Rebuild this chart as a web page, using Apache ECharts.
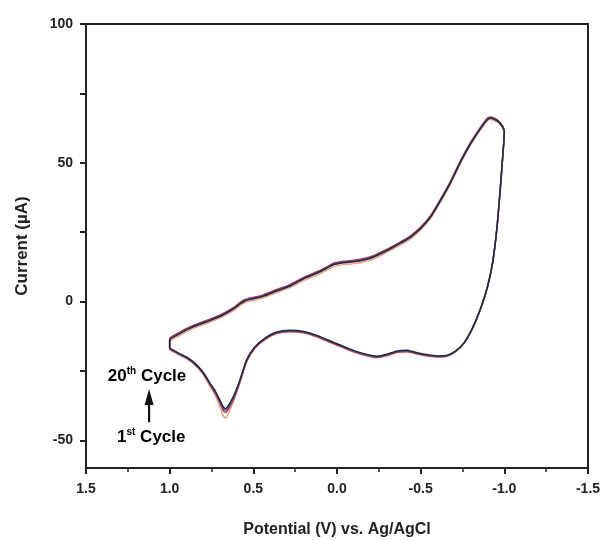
<!DOCTYPE html>
<html>
<head>
<meta charset="utf-8">
<script src="https://cdn.jsdelivr.net/npm/echarts@6/dist/echarts.min.js"></script>
<style>
  html, body { margin: 0; padding: 0; background: #fff; }
  #cv { width: 605px; height: 540px; }
</style>
</head>
<body>
<div id="cv"></div>
<script>
// cyclic voltammogram, cycles 1..20 overlapping
// sweep: 1.0 V -> -1.0 V (lower branch), then back to 1.0 V (upper branch)
var potential = [1.00, 0.95, 0.90, 0.85, 0.80, 0.76, 0.73, 0.70, 0.68, 0.665, 0.65, 0.63, 0.61, 0.58, 0.54, 0.49, 0.43, 0.36, 0.28, 0.20,
  0.12, 0.03, -0.06, -0.15, -0.24, -0.30, -0.36, -0.42, -0.48, -0.54, -0.60, -0.66, -0.71, -0.76, -0.81, -0.86, -0.90, -0.93, -0.955, -0.975,
  -0.99, -1.00, -0.99, -0.96, -0.92, -0.90, -0.86, -0.80, -0.74, -0.68, -0.62, -0.56, -0.50, -0.44, -0.38, -0.32, -0.26, -0.20, -0.14, -0.08,
  -0.03, 0.02, 0.07, 0.12, 0.20, 0.28, 0.36, 0.44, 0.50, 0.55, 0.58, 0.61, 0.65, 0.70, 0.76, 0.82, 0.88, 0.94, 1.00, 1.00];

var cycle1 = [-17.4, -19.1, -20.6, -22.9, -26.3, -30.5, -33.6, -37.9, -41.2, -42.0, -40.5, -37.7, -34.6, -29.3, -21.8, -16.9, -13.8, -11.6, -11.0, -11.4,
  -12.8, -15.1, -17.3, -19.2, -20.3, -19.6, -18.4, -18.2, -19.0, -19.7, -20.0, -19.7, -18.0, -15.0, -9.7, -2.4, 5.3, 13.8, 25.8, 39.8,
  51.8, 60.8, 62.5, 64.6, 65.6, 65.2, 62.1, 56.6, 50.0, 42.5, 36.0, 30.0, 25.8, 22.6, 20.4, 18.4, 16.5, 14.9, 14.0, 13.5,
  13.2, 12.6, 11.0, 9.5, 7.5, 5.0, 3.2, 1.3, 0.4, -0.4, -1.5, -2.9, -4.4, -6.0, -7.5, -8.8, -10.3, -12.2, -14.6, -17.4];

var cycle10 = [-17.1, -18.8, -20.3, -22.6, -25.9, -29.9, -32.7, -36.5, -39.3, -40.0, -38.9, -36.6, -34.0, -28.9, -21.5, -16.7, -13.6, -11.4, -10.8, -11.2,
  -12.6, -14.9, -17.1, -19.0, -20.1, -19.4, -18.2, -18.0, -18.8, -19.5, -19.9, -19.6, -17.9, -14.9, -9.6, -2.3, 5.4, 14.1, 26.1, 40.1,
  52.1, 61.1, 63.2, 65.4, 66.5, 66.1, 63.0, 57.5, 51.0, 43.5, 37.0, 31.0, 26.8, 23.7, 21.5, 19.5, 17.7, 16.1, 15.2, 14.7,
  14.4, 13.8, 12.2, 10.7, 8.7, 6.1, 4.3, 2.4, 1.5, 0.7, -0.4, -1.8, -3.3, -4.9, -6.4, -7.7, -9.2, -11.1, -13.4, -17.1];

var cycle15 = [-17.0, -18.7, -20.2, -22.4, -25.7, -29.6, -32.4, -36.0, -38.6, -39.2, -38.2, -36.0, -33.5, -28.6, -21.2, -16.5, -13.4, -11.2, -10.6, -11.0,
  -12.4, -14.7, -16.9, -18.8, -19.9, -19.2, -18.0, -17.8, -18.7, -19.4, -19.8, -19.5, -17.9, -14.9, -9.6, -2.3, 5.4, 14.0, 26.0, 40.0,
  52.0, 61.0, 63.0, 65.2, 66.2, 65.8, 62.7, 57.2, 50.7, 43.2, 36.7, 30.7, 26.5, 23.4, 21.2, 19.2, 17.4, 15.8, 14.9, 14.4,
  14.1, 13.5, 11.9, 10.4, 8.4, 5.8, 4.0, 2.1, 1.2, 0.4, -0.7, -2.1, -3.6, -5.2, -6.7, -8.0, -9.5, -11.4, -13.7, -17.0];

var cycle20 = [-16.8, -18.5, -20.0, -22.2, -25.5, -29.3, -32.0, -35.5, -38.0, -38.6, -37.5, -35.5, -33.0, -28.3, -21.0, -16.3, -13.2, -11.0, -10.4, -10.8,
  -12.2, -14.5, -16.7, -18.6, -19.7, -19.0, -17.8, -17.6, -18.5, -19.2, -19.6, -19.4, -17.8, -14.8, -9.5, -2.2, 5.5, 14.0, 26.0, 40.0,
  52.0, 61.0, 62.8, 65.0, 66.0, 65.6, 62.5, 57.0, 50.5, 43.0, 36.5, 30.5, 26.3, 23.2, 21.0, 19.0, 17.2, 15.6, 14.7, 14.2,
  13.9, 13.3, 11.7, 10.2, 8.2, 5.6, 3.8, 1.9, 1.0, 0.2, -0.9, -2.3, -3.8, -5.4, -6.9, -8.2, -9.7, -11.6, -13.9, -16.8];

var yLabels = [-50, 0, 50, 100];
var yTicks = [-50, -25, 0, 25, 50, 75, 100];

var cycles = [
  { name: '1st', values: cycle1, color: '#f0a286' },
  { name: '10th', values: cycle10, color: '#b8304a' },
  { name: '15th', values: cycle15, color: '#4a55a0' },
  { name: '20th', values: cycle20, color: '#262838' }
];

var chart = echarts.init(document.getElementById('cv'));
var font = 'Liberation Sans, Arial, sans-serif';

var series = cycles.map(function (c) {
  return {
    name: c.name,
    type: 'line',
    smooth: 0.2,
    showSymbol: false,
    symbol: 'none',
    lineStyle: { color: c.color, width: 1.5 },
    data: potential.map(function (p, i) { return [p, c.values[i]]; })
  };
});

var option = {
  animation: false,
  backgroundColor: '#fff',
  grid: {
    left: 86, right: 17, top: 24, bottom: 72,
    outerBoundsMode: 'none',
    containLabel: false,
    show: true, borderColor: '#222', borderWidth: 2, backgroundColor: 'transparent'
  },
  xAxis: {
    type: 'value',
    inverse: true,
    min: -1.5,
    max: 1.5,
    interval: 0.5,
    name: 'Potential (V) vs. Ag/AgCl',
    nameLocation: 'middle',
    nameGap: 54,
    nameTextStyle: { fontFamily: font, fontWeight: 'bold', fontSize: 16, color: '#222' },
    axisLine: { onZero: false, lineStyle: { color: '#222', width: 2 } },
    axisTick: { show: true, inside: false, length: 6, lineStyle: { color: '#222', width: 2 } },
    minorTick: { show: true, splitNumber: 2, length: 4, lineStyle: { color: '#222', width: 1.5 } },
    axisLabel: {
      margin: 14, fontFamily: font, fontWeight: 'bold', fontSize: 14, color: '#222',
      formatter: function (v) { return v.toFixed(1); }
    },
    splitLine: { show: false }
  },
  yAxis: {
    type: 'value',
    min: -60,
    max: 100,
    name: 'Current (\u00b5A)',
    nameLocation: 'middle',
    nameGap: 55,
    nameRotate: 90,
    nameTextStyle: { fontFamily: font, fontWeight: 'bold', fontSize: 17, color: '#222' },
    axisLine: { onZero: false, lineStyle: { color: '#222', width: 2 } },
    axisTick: { show: true, inside: false, length: 6, customValues: yTicks, lineStyle: { color: '#222', width: 2 } },
    axisLabel: {
      margin: 13, fontFamily: font, fontWeight: 'bold', fontSize: 14, color: '#222',
      customValues: yLabels
    },
    splitLine: { show: false }
  },
  series: series
};

chart.setOption(option);

// cycle annotation, anchored in data coordinates
function px(x, y) { return chart.convertToPixel({ gridIndex: 0 }, [x, y]); }
var rich = {
  b: { fontFamily: font, fontWeight: 'bold', fontSize: 17, color: '#222' },
  s: { fontFamily: font, fontWeight: 'bold', fontSize: 10, color: '#222', verticalAlign: 'top', padding: [0, 0, 10, 0] }
};
var t20 = px(1.135, -27.0);
var t1 = px(1.11, -49.0);
var aTop = px(1.123, -31.5);
var aBot = px(1.123, -43.5);

chart.setOption({
  graphic: [
    {
      type: 'text', x: t20[0], y: t20[1],
      style: { text: '{b|20}{s|th}{b| Cycle}', rich: rich, align: 'center', verticalAlign: 'middle' }
    },
    {
      type: 'text', x: t1[0], y: t1[1],
      style: { text: '{b|1}{s|st}{b| Cycle}', rich: rich, align: 'center', verticalAlign: 'middle' }
    },
    {
      type: 'polygon',
      shape: { points: [[aTop[0], aTop[1]], [aTop[0] - 4.5, aTop[1] + 16], [aTop[0] + 4.5, aTop[1] + 16]] },
      style: { fill: '#111' }
    },
    {
      type: 'line',
      shape: { x1: aTop[0], y1: aTop[1] + 12, x2: aBot[0], y2: aBot[1] },
      style: { stroke: '#111', lineWidth: 2.2 }
    }
  ]
});
</script>
</body>
</html>
